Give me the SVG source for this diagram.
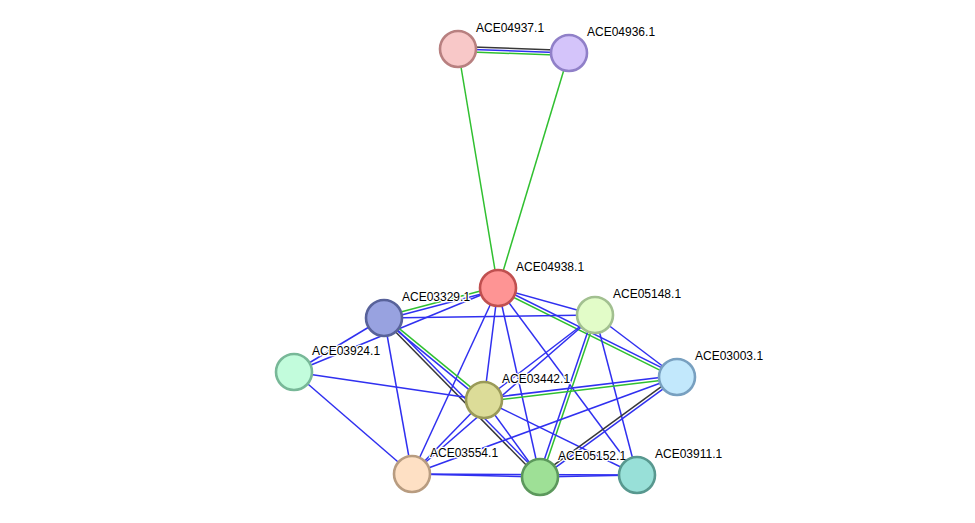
<svg xmlns="http://www.w3.org/2000/svg" width="975" height="523" viewBox="0 0 975 523">
<style>
.b{stroke:#3030f0;stroke-width:1.5;fill:none}
.g{stroke:#30c030;stroke-width:1.5;fill:none}
.k{stroke:#383838;stroke-width:1.5;fill:none}
circle{stroke-width:2.6}
text{font-family:"Liberation Sans",Arial,sans-serif;font-size:12px;fill:#000;stroke:#fff;stroke-width:2.5;paint-order:stroke;stroke-linejoin:round}
</style>
<rect width="975" height="523" fill="#fff"/>
<g id="edges">
<line class="k" x1="458.09" y1="46.5" x2="569.09" y2="50.5"/>
<line class="b" x1="458" y1="49" x2="569" y2="53"/>
<line class="g" x1="457.91" y1="51.5" x2="568.91" y2="55.5"/>
<line class="g" x1="458" y1="49" x2="498" y2="288"/>
<line class="g" x1="569" y1="53" x2="498" y2="288"/>
<line class="g" x1="497.6" y1="286.5" x2="383.6" y2="316.5"/>
<line class="b" x1="498.4" y1="289.5" x2="384.4" y2="319.5"/>
<line class="b" x1="498" y1="288" x2="595" y2="315"/>
<line class="b" x1="498.67" y1="286.66" x2="677.67" y2="375.66"/>
<line class="g" x1="497.33" y1="289.34" x2="676.33" y2="378.34"/>
<line class="b" x1="498" y1="288" x2="484" y2="400"/>
<line class="b" x1="498" y1="288" x2="412" y2="474"/>
<line class="b" x1="498" y1="288" x2="540" y2="477"/>
<line class="b" x1="498" y1="288" x2="637" y2="475"/>
<line class="b" x1="498" y1="288" x2="294" y2="372"/>
<line class="b" x1="384" y1="318" x2="595" y2="315"/>
<line class="b" x1="384" y1="318" x2="294" y2="372"/>
<line class="g" x1="384.95" y1="316.84" x2="484.95" y2="398.84"/>
<line class="b" x1="383.05" y1="319.16" x2="483.05" y2="401.16"/>
<line class="k" x1="382.93" y1="319.05" x2="538.93" y2="478.05"/>
<line class="b" x1="385.07" y1="316.95" x2="541.07" y2="475.95"/>
<line class="b" x1="384" y1="318" x2="412" y2="474"/>
<line class="b" x1="294" y1="372" x2="484" y2="400"/>
<line class="b" x1="294" y1="372" x2="412" y2="474"/>
<line class="b" x1="595" y1="315" x2="484" y2="400"/>
<line class="b" x1="595" y1="315" x2="412" y2="474"/>
<line class="g" x1="596.42" y1="315.48" x2="541.42" y2="477.48"/>
<line class="b" x1="593.58" y1="314.52" x2="538.58" y2="476.52"/>
<line class="b" x1="595" y1="315" x2="637" y2="475"/>
<line class="b" x1="595" y1="315" x2="677" y2="377"/>
<line class="g" x1="484.18" y1="401.49" x2="677.18" y2="378.49"/>
<line class="b" x1="483.82" y1="398.51" x2="676.82" y2="375.51"/>
<line class="b" x1="484" y1="400" x2="412" y2="474"/>
<line class="b" x1="484" y1="400" x2="540" y2="477"/>
<line class="b" x1="484" y1="400" x2="637" y2="475"/>
<line class="b" x1="677" y1="377" x2="412" y2="474"/>
<line class="k" x1="676.1" y1="375.8" x2="539.1" y2="475.8"/>
<line class="b" x1="677.9" y1="378.2" x2="540.9" y2="478.2"/>
<line class="b" x1="412" y1="474" x2="540" y2="477"/>
<line class="b" x1="412" y1="474" x2="637" y2="475"/>
<line class="b" x1="540" y1="477" x2="637" y2="475"/>
</g>
<g id="ACE04937.1"><circle cx="458" cy="49" r="18" fill="#f8c8c8" stroke="#b88080"/><text x="476" y="32">ACE04937.1</text></g>
<g id="ACE04936.1"><circle cx="569" cy="53" r="18" fill="#d4c4fa" stroke="#9080c8"/><text x="587" y="36">ACE04936.1</text></g>
<g id="ACE04938.1"><circle cx="498" cy="288" r="18" fill="#fe9494" stroke="#c05050"/><text x="516" y="271">ACE04938.1</text></g>
<g id="ACE03329.1"><circle cx="384" cy="318" r="18" fill="#98a2e0" stroke="#58629a"/><text x="402" y="301">ACE03329.1</text></g>
<g id="ACE05148.1"><circle cx="595" cy="315" r="18" fill="#e2fcc8" stroke="#a2c090"/><text x="613" y="298">ACE05148.1</text></g>
<g id="ACE03924.1"><circle cx="294" cy="372" r="18" fill="#c2fcdc" stroke="#78b898"/><text x="312" y="355">ACE03924.1</text></g>
<g id="ACE03442.1"><circle cx="484" cy="400" r="18" fill="#dcdc98" stroke="#9a9a58"/><text x="502" y="383">ACE03442.1</text></g>
<g id="ACE03003.1"><circle cx="677" cy="377" r="18" fill="#c2e8fc" stroke="#78a0c0"/><text x="695" y="360">ACE03003.1</text></g>
<g id="ACE03554.1"><circle cx="412" cy="474" r="18" fill="#fee0c4" stroke="#b89c80"/><text x="430" y="457">ACE03554.1</text></g>
<g id="ACE05152.1"><circle cx="540" cy="477" r="18" fill="#9ee096" stroke="#5c985c"/><text x="558" y="460">ACE05152.1</text></g>
<g id="ACE03911.1"><circle cx="637" cy="475" r="18" fill="#98e0d8" stroke="#58988f"/><text x="655" y="458">ACE03911.1</text></g>
</svg>
